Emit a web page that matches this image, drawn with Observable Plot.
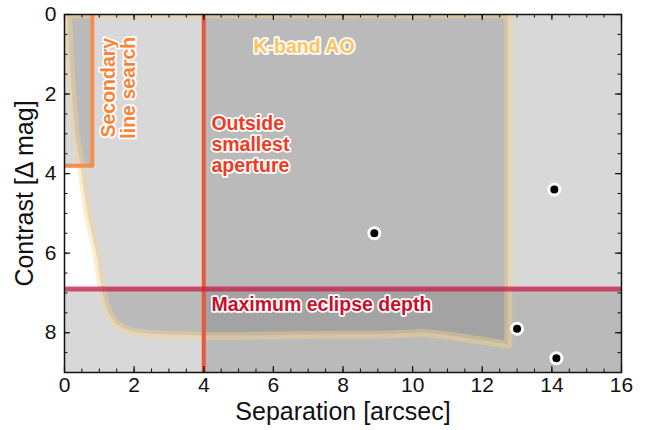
<!DOCTYPE html>
<html>
<head>
<meta charset="utf-8">
<script src="https://cdn.jsdelivr.net/npm/d3@7"></script>
<script src="https://cdn.jsdelivr.net/npm/@observablehq/plot@0.6"></script>
<style>
  html, body { margin: 0; padding: 0; background: white; }
</style>
</head>
<body>
<div id="chart"></div>
<script>
// ---- Data ----
// K-band AO contrast curve (separation in arcsec, contrast in Δmag)
const aoSep      = [0.10, 0.15, 0.22, 0.32, 0.46, 0.58, 0.70, 0.82, 0.92, 1.00, 1.08, 1.18, 1.30, 1.45, 1.70, 2.00, 2.50, 3.00, 4.00, 5.00, 6.00, 7.00, 8.00, 9.00, 10.00, 10.30, 11.00, 12.00, 12.60, 12.75];
const aoContrast = [0.00, 1.00, 2.00, 3.00, 3.70, 4.50, 5.15, 5.60, 6.00, 6.45, 6.90, 7.30, 7.55, 7.75, 7.90, 7.98, 8.04, 8.06, 8.08, 8.08, 8.07, 8.06, 8.05, 8.05, 8.02, 8.00, 8.07, 8.20, 8.28, 8.30];

// Detected companions
const starSep      = [8.90, 14.07, 13.00, 14.13];
const starContrast = [5.50, 4.40, 7.90, 8.64];

// Limits
const secondarySep = 0.8;   // arcsec
const secondaryMag = 3.8;   // Δmag
const apertureSep  = 4.0;   // arcsec
const eclipseDepth = 6.9;   // Δmag
const xMax = 16, yMax = 9;

// Tick values
const xMajor = [0, 2, 4, 6, 8, 10, 12, 14, 16];
const xMinor = d3.range(0, 16.01, 0.5);
const yMajor = [0, 2, 4, 6, 8];
const yMinor = d3.range(0, 9.01, 0.5);

// Annotation labels
const labelText = ["K-band AO", "Outside\nsmallest\naperture", "Maximum eclipse depth", "Secondary\nline search"];
const labelSep  = [6.88, 4.22, 4.22, 1.55];
const labelMag  = [0.81, 3.26, 7.3, 1.84];

// ---- Build tables ----
const ao = aoSep.map((x, i) => ({x, y: aoContrast[i]}));
const aoOutline = [...ao, {x: aoSep[aoSep.length - 1], y: 0}, {x: aoSep[0], y: 0}];
const stars = starSep.map((x, i) => ({x, y: starContrast[i]}));
const labels = labelText.map((t, i) => ({t, x: labelSep[i], y: labelMag[i]}));

// ---- Layout ----
const W = 648, H = 430;
const mL = 64, mR = 27, mT = 14, mB = 58;
const fw = W - mL - mR, fh = H - mT - mB;
const majorLen = 6, minorLen = 3.5;

const GRAY = "#606060", GOP = 0.245;
const FONT = "'Liberation Sans', Arial, Helvetica, sans-serif";
const ORANGE = "#f58d4e", ORANGE_T = "#f7853a";
const RED = "#e9573f", RED_T = "#ef3b24";
const CRIMSON = "#c41e4a", CRIMSON_T = "#c8102e";
const AO_LINE = "#f9d48a", AO_T = "#fcc45c";
const LFS = 19.5, LSW = 3.5;

const chart = Plot.plot({
  width: W, height: H,
  marginLeft: mL, marginRight: mR, marginTop: mT, marginBottom: mB,
  x: {domain: [0, xMax]},
  y: {domain: [0, yMax], reverse: true},
  style: {fontFamily: FONT, background: "white", color: "#111"},
  marks: [
    // shaded regions
    Plot.rect([{x1: 0, x2: secondarySep, y1: 0, y2: secondaryMag}], {x1: "x1", x2: "x2", y1: "y1", y2: "y2", fill: GRAY, fillOpacity: GOP}),
    Plot.rect([{x1: apertureSep, x2: xMax, y1: 0, y2: yMax}], {x1: "x1", x2: "x2", y1: "y1", y2: "y2", fill: GRAY, fillOpacity: GOP}),
    Plot.rect([{x1: 0, x2: xMax, y1: eclipseDepth, y2: yMax}], {x1: "x1", x2: "x2", y1: "y1", y2: "y2", fill: GRAY, fillOpacity: GOP}),
    Plot.areaY(ao, {x: "x", y1: 0, y2: "y", fill: GRAY, fillOpacity: GOP}),
    // AO outline
    Plot.line(aoOutline, {x: "x", y: "y", stroke: AO_LINE, strokeOpacity: 0.42, strokeWidth: 8, strokeLinejoin: "round", clip: true}),
    // limits
    Plot.line([{x: secondarySep, y: 0}, {x: secondarySep, y: secondaryMag}, {x: 0, y: secondaryMag}], {x: "x", y: "y", stroke: ORANGE, strokeWidth: 4, clip: true}),
    Plot.ruleX([apertureSep], {stroke: RED, strokeWidth: 4}),
    Plot.ruleY([eclipseDepth], {stroke: CRIMSON, strokeOpacity: 0.75, strokeWidth: 5}),
    // labels
    Plot.text([labels[0]], {x: "x", y: "y", text: "t", fill: AO_T, stroke: "white", strokeWidth: LSW, fontWeight: "bold", fontSize: LFS}),
    Plot.text([labels[1]], {x: "x", y: "y", text: "t", fill: RED_T, stroke: "white", strokeWidth: LSW, fontWeight: "bold", fontSize: LFS, textAnchor: "start", lineHeight: 1.09}),
    Plot.text([labels[2]], {x: "x", y: "y", text: "t", fill: CRIMSON_T, stroke: "white", strokeWidth: LSW, fontWeight: "bold", fontSize: LFS, textAnchor: "start"}),
    Plot.text([labels[3]], {x: "x", y: "y", text: "t", fill: ORANGE_T, stroke: "white", strokeWidth: LSW, fontWeight: "bold", fontSize: LFS, rotate: -90, lineHeight: 1.03}),
    // stars
    Plot.dot(stars, {x: "x", y: "y", r: 5.5, fill: "black", stroke: "white", strokeWidth: 3}),
    // ticks (inward, all four sides)
    Plot.ruleX(xMinor, {insetTop: fh - minorLen, stroke: "#111", strokeWidth: 1}),
    Plot.ruleX(xMinor, {insetBottom: fh - minorLen, stroke: "#111", strokeWidth: 1}),
    Plot.ruleX(xMajor, {insetTop: fh - majorLen, stroke: "#111", strokeWidth: 1.2}),
    Plot.ruleX(xMajor, {insetBottom: fh - majorLen, stroke: "#111", strokeWidth: 1.2}),
    Plot.ruleY(yMinor, {insetRight: fw - minorLen, stroke: "#111", strokeWidth: 1}),
    Plot.ruleY(yMinor, {insetLeft: fw - minorLen, stroke: "#111", strokeWidth: 1}),
    Plot.ruleY(yMajor, {insetRight: fw - majorLen, stroke: "#111", strokeWidth: 1.2}),
    Plot.ruleY(yMajor, {insetLeft: fw - majorLen, stroke: "#111", strokeWidth: 1.2}),
    Plot.frame({stroke: "#111", strokeWidth: 1.5}),
    // axes labels
    Plot.axisX({ticks: xMajor, tickSize: 0, tickPadding: 5, fontSize: 21, label: null}),
    Plot.axisY({ticks: yMajor, tickSize: 0, tickPadding: 8, fontSize: 21, label: null}),
    Plot.text(["Separation [arcsec]"], {frameAnchor: "bottom", textAnchor: "middle", lineAnchor: "middle", dy: 39, fontSize: 25, fill: "#111"}),
    Plot.text(["Contrast [Δ mag]"], {frameAnchor: "left", textAnchor: "middle", lineAnchor: "middle", dx: -40, rotate: -90, fontSize: 25, fill: "#111"})
  ]
});
document.getElementById("chart").appendChild(chart);
</script>
</body>
</html>
